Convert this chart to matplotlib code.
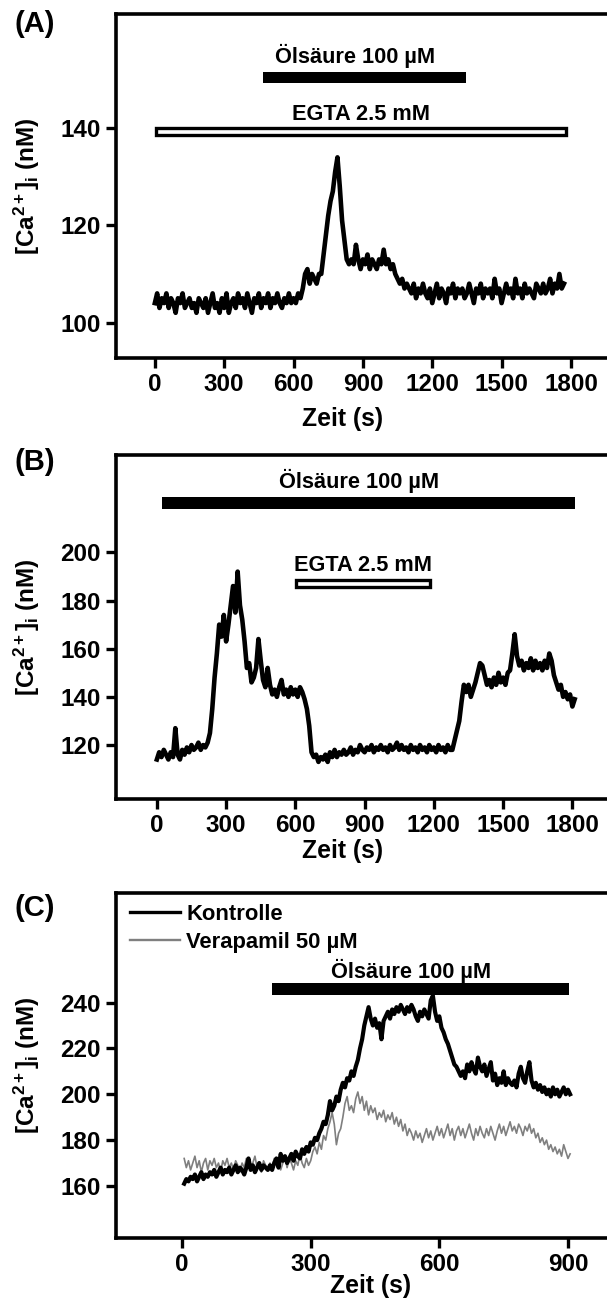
import numpy as np
import matplotlib
matplotlib.use('Agg')
import matplotlib.pyplot as plt
from matplotlib.patches import Rectangle

plt.rcParams['font.family'] = ['Liberation Sans', 'DejaVu Sans']
plt.rcParams['font.weight'] = 'bold'
plt.rcParams['mathtext.fontset'] = 'custom'
plt.rcParams['mathtext.rm'] = 'Liberation Sans:bold'
plt.rcParams['mathtext.bf'] = 'Liberation Sans:bold'
plt.rcParams['mathtext.it'] = 'Liberation Sans:bold'

# ── Daten ───────────────────────────────────────────────────────────────────
# (A) EGTA-Vorbehandlung, Ölsäure 100 µM; Abtastung alle 10 s ab t = 0
ca_A = [
    # 0 - 600 s
    104, 106, 103, 105, 104, 106, 103, 105, 104, 102,
    105, 104, 106, 103, 104, 105, 103, 104, 102, 105,
    104, 103, 105, 102, 104, 106, 103, 104, 102, 105,
    103, 106, 102, 104, 105, 103, 106, 104, 105, 103,
    106, 104, 102, 105, 104, 106, 103, 105, 104, 106,
    103, 105, 104, 106, 104, 103, 105, 104, 106, 104,
    105,
    # 610 - 710 s
    104, 106, 105, 107, 110, 111, 108, 110, 109, 108, 110,
    # 720 - 1090 s
    110, 114, 118, 122, 125, 127, 131, 134, 128, 121,
    117, 113, 112, 113, 112, 116, 113, 111, 113, 112,
    114, 111, 113, 112, 111, 113, 112, 115, 112, 113,
    111, 112, 110, 109, 108, 109, 107, 108,
    # 1100 - 1770 s
    107, 106, 108, 105, 107, 106, 108, 106, 105, 107,
    104, 106, 108, 105, 107, 106, 104, 107, 106, 108,
    105, 107, 106, 107, 105, 106, 108, 106, 104, 107,
    106, 108, 105, 107, 106, 107, 105, 109, 106, 107,
    104, 106, 108, 106, 107, 105, 109, 106, 107, 105,
    108, 106, 107, 106, 105, 108, 107, 106, 108, 106,
    107, 109, 106, 108, 107, 110, 107, 108,
]
dt_A = 10

# (B) Ölsäure 100 µM, EGTA-Zugabe zwischendurch; alle 10 s ab t = 0
ca_B = [
    # 0 - 220 s
    114, 117, 115, 118, 116, 114, 117, 115, 127, 116,
    114, 118, 116, 119, 117, 120, 118, 119, 121, 118,
    120, 119, 121,
    # 230 - 660 s
    125, 135, 148, 158, 170, 165, 174, 163, 170, 178,
    186, 175, 192, 178, 172, 163, 152, 154, 146, 148,
    152, 164, 155, 147, 144, 152, 145, 141, 143, 140,
    144, 147, 141, 143, 140, 144, 141, 143, 140, 144,
    142, 139, 135, 128,
    # 670 - 1280 s
    117, 115, 116, 113, 115, 114, 116, 113, 117, 115,
    118, 115, 117, 116, 118, 116, 117, 119, 116, 118,
    117, 120, 118, 117, 119, 118, 120, 117, 119, 118,
    120, 118, 119, 117, 120, 118, 119, 121, 118, 120,
    118, 119, 117, 120, 118, 119, 117, 120, 118, 119,
    117, 120, 118, 119, 117, 120, 118, 119, 117, 120,
    118, 118,
    # 1290 - 1810 s
    122, 126, 130, 138, 145, 142, 145, 140, 143, 146,
    150, 154, 153, 149, 145, 147, 144, 148, 145, 150,
    146, 148, 145, 150, 151, 158, 166, 157, 153, 155,
    151, 154, 152, 156, 151, 155, 152, 154, 151, 155,
    152, 158, 155, 149, 146, 143, 145, 140, 142, 139,
    141, 136, 139,
]
dt_B = 10

# (C) Kontrolle vs. Verapamil 50 µM; alle 5 s ab t = 5
ca_C_kontrolle = [
    161, 163, 162, 164, 163, 165, 162, 164, 166, 163,
    165, 164, 166, 165, 167, 164, 166, 168, 165, 167,
    166, 168, 165, 167, 169, 166, 168, 167, 165, 168,
    172, 167, 169, 166, 168, 170, 167, 169, 168, 167,
    169, 167, 170, 172, 168, 174, 171, 173, 170, 172,
    174, 171, 175, 173, 172, 176, 174, 177, 175, 179,
    178, 181, 180, 183, 185, 188, 187, 191, 197, 193,
    195, 199, 197, 202, 205, 203, 207, 206, 210, 208,
    212, 215, 220, 224, 230, 234, 238, 233, 230, 233,
    229, 231, 224, 232, 234, 236, 233, 237, 235, 238,
    236, 239, 237, 235, 238, 236, 239, 237, 234, 232,
    236, 234, 237, 235, 233, 241, 243, 236, 232, 234,
    229, 227, 224, 222, 219, 216, 213, 212, 210, 208,
    210, 207, 213, 210, 214, 211, 209, 216, 212, 210,
    213, 208, 211, 214, 206, 209, 204, 207, 205, 210,
    204, 207, 205, 204, 206, 203, 209, 212, 207, 205,
    210, 214, 206, 203, 205, 202, 204, 201, 203, 200,
    202, 199, 203, 200, 202, 199, 201, 203, 200, 202,
    200,
]
ca_C_verapamil = [
    172, 168, 171, 167, 170, 173, 168, 171, 166, 170,
    172, 167, 171, 169, 172, 168, 170, 166, 171, 169,
    172, 168, 170, 167, 171, 169, 166, 170, 168, 172,
    169, 167, 170, 173, 168, 170, 166, 171, 169, 167,
    170, 168, 172, 169, 171, 167, 170, 173, 168, 172,
    170, 167, 171, 169, 174, 170, 168, 172, 169, 171,
    175, 177, 174, 179, 176, 182, 180, 185, 188, 192,
    187, 178, 183, 185, 190, 196, 199, 193, 195, 192,
    198, 201, 196, 199, 193, 197, 191, 195, 192, 194,
    189, 192, 190, 193, 188, 191, 189, 192, 187, 190,
    186, 189, 184, 187, 182, 185, 183, 180, 184, 181,
    183, 179, 182, 185, 181, 184, 180, 183, 186, 182,
    185, 181, 184, 187, 182, 185, 180, 184, 186, 182,
    185, 181, 184, 187, 183, 180, 185, 182, 186, 183,
    181, 185, 182, 186, 183, 180, 184, 187, 183, 186,
    182, 185, 188, 184, 186, 183, 187, 185, 182, 186,
    184, 187, 183, 185, 181, 183, 179, 181, 178, 180,
    176, 178, 175, 177, 174, 176, 173, 178, 175, 172,
    174,
]
t0_C, dt_C = 5, 5

# Applikationszeiten (s)
oels_A = (469, 1348)
egta_A = (7, 1777)
oels_B = (22, 1812)
egta_B = (603, 1184)
oels_C = (210, 903)

t_A = np.arange(len(ca_A)) * dt_A
t_B = np.arange(len(ca_B)) * dt_B
t_C = t0_C + np.arange(len(ca_C_kontrolle)) * dt_C

# ── Layout (Pixel der Vorlage) ─────────────────────────────────────────────
W, H = 607, 1302
fig = plt.figure(figsize=(W / 100, H / 100), dpi=100)


def achse(left, top, right, bottom):
    return fig.add_axes([left / W, 1 - bottom / H, (right - left) / W, (bottom - top) / H])


def stil(ax):
    for s in ['left', 'top', 'bottom']:
        ax.spines[s].set_linewidth(2.6)
    ax.spines['right'].set_visible(False)
    ax.tick_params(direction='out', length=7, width=2.4, labelsize=17.5, pad=4)


axA = achse(116, 14, 607, 358)
axB = achse(116, 455, 607, 799)
axC = achse(116, 893, 607, 1238)

# ── (A) ──
stil(axA)
axA.plot(t_A, ca_A, color='black', lw=3.3, solid_joinstyle='round')
axA.add_patch(Rectangle((oels_A[0], 149.3), oels_A[1] - oels_A[0], 2.3, facecolor='black', edgecolor='none'))
axA.add_patch(Rectangle((egta_A[0], 138.55), egta_A[1] - egta_A[0], 1.4, facecolor='white', edgecolor='black', lw=2.4))
axA.text(866, 153.5, 'Ölsäure 100 µM', ha='center', va='baseline', fontsize=15.7, fontweight='bold')
axA.text(891, 141.6, 'EGTA 2.5 mM', ha='center', va='baseline', fontsize=15.7, fontweight='bold')
axA.set_xlim(-168, 1956)
axA.set_ylim(92.7, 163.5)
axA.set_xticks([0, 300, 600, 900, 1200, 1500, 1800])
axA.set_yticks([100, 120, 140])

# ── (B) ──
stil(axB)
axB.plot(t_B, ca_B, color='black', lw=3.3, solid_joinstyle='round')
axB.add_patch(Rectangle((oels_B[0], 217.9), oels_B[1] - oels_B[0], 4.9, facecolor='black', edgecolor='none'))
axB.add_patch(Rectangle((egta_B[0], 185.7), egta_B[1] - egta_B[0], 2.8, facecolor='white', edgecolor='black', lw=2.4))
axB.text(876, 226.6, 'Ölsäure 100 µM', ha='center', va='baseline', fontsize=15.7, fontweight='bold')
axB.text(893, 192.4, 'EGTA 2.5 mM', ha='center', va='baseline', fontsize=15.7, fontweight='bold')
axB.set_xlim(-177, 1950)
axB.set_ylim(97.6, 240.4)
axB.set_xticks([0, 300, 600, 900, 1200, 1500, 1800])
axB.set_yticks([120, 140, 160, 180, 200])

# ── (C) ──
stil(axC)
axC.plot(t_C, ca_C_verapamil, color='#7f7f7f', lw=1.2, label='Verapamil 50 µM')
axC.plot(t_C, ca_C_kontrolle, color='black', lw=3.0, solid_joinstyle='round', label='Kontrolle')
axC.add_patch(Rectangle((oels_C[0], 243.4), oels_C[1] - oels_C[0], 5.3, facecolor='black', edgecolor='none'))
axC.text(534, 250.7, 'Ölsäure 100 µM', ha='center', va='baseline', fontsize=15.7, fontweight='bold')
axC.set_xlim(-154, 991)
axC.set_ylim(137.3, 287.8)
axC.set_xticks([0, 300, 600, 900])
axC.set_yticks([160, 180, 200, 220, 240])
h, l = axC.get_legend_handles_labels()
leg = axC.legend(h[::-1], l[::-1], loc='upper left', bbox_to_anchor=(0.0285, 0.968),
                 frameon=False, borderpad=0, borderaxespad=0, handlelength=2.3,
                 handletextpad=0.27, labelspacing=0.3,
                 prop={'size': 15.8, 'weight': 'bold'})
leg.get_lines()[0].set_linewidth(2.4)
leg.get_lines()[1].set_linewidth(1.7)

# ── Beschriftungen ──
ylab = '[Ca$^{2+}$]$_{i}$ (nM)'
for (lab, ylab_c, xlab_x, xlab_y, plab_y) in [
        ('(A)', 186, 343, 419, 24),
        ('(B)', 627, 343, 851, 462),
        ('(C)', 1065, 371, 1286, 908)]:
    fig.text(15 / W, 1 - plab_y / H, lab, ha='left', va='center', fontsize=21, fontweight='bold')
    fig.text(27 / W, 1 - ylab_c / H, ylab, ha='center', va='center', rotation=90,
             fontsize=17.5, fontweight='bold')
    fig.text(xlab_x / W, 1 - xlab_y / H, 'Zeit (s)', ha='center', va='center',
             fontsize=17.8, fontweight='bold')

fig.savefig('out.png', dpi=100)
plt.close(fig)
